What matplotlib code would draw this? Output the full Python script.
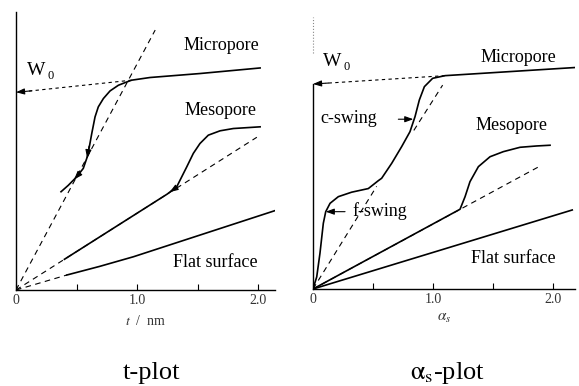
import matplotlib.pyplot as plt

plt.rcParams['font.family'] = 'Liberation Serif'
plt.rcParams['mathtext.fontset'] = 'stix'

# ---- t-plot data (t / nm , amount adsorbed) ----
t_micro_x = [0.372, 0.432, 0.501, 0.556, 0.589, 0.606, 0.626, 0.653, 0.680,
             0.722, 0.777, 0.846, 0.915, 0.956, 1.107, 1.521, 2.017]
t_micro_y = [0.813, 0.866, 0.936, 1.006, 1.102, 1.185, 1.295, 1.432, 1.515,
             1.584, 1.647, 1.694, 1.721, 1.736, 1.758, 1.791, 1.837]
t_micro_slope = 1.87      # dashed line through origin
t_micro_dash_end = 1.15

t_meso_x = [0.40, 1.25, 1.328, 1.411, 1.465, 1.520, 1.589, 1.686, 1.796, 2.017]
t_meso_y = [0.254, 0.794, 0.854, 1.019, 1.130, 1.212, 1.281, 1.317, 1.336, 1.350]
t_meso_slope = 0.635
t_meso_dash_end = 1.99

t_flat_x = [0.42, 0.69, 0.97, 2.15]
t_flat_y = [0.124, 0.195, 0.275, 0.660]

t_w0 = 1.636
t_w0_from = (0.956, 1.736)

# ---- alpha_s-plot data ----
a_micro_x = [0.0, 0.031, 0.058, 0.086, 0.106, 0.142, 0.211, 0.322, 0.461, 0.544,
             0.572, 0.656, 0.739, 0.808, 0.850, 0.886, 0.928, 0.997, 1.100, 2.180]
a_micro_y = [0.0, 0.100, 0.295, 0.543, 0.639, 0.708, 0.763, 0.800, 0.830, 0.895,
             0.915, 1.039, 1.177, 1.300, 1.424, 1.562, 1.672, 1.741, 1.763, 1.830]
a_fswing_slope = 1.60
a_fswing_dash = (0.0, 0.53)
a_cswing_slope = 1.56
a_cswing_dash = (0.84, 1.08)

a_meso_x = [0.0, 1.225, 1.267, 1.308, 1.378, 1.475, 1.586, 1.725, 1.864, 1.975]
a_meso_y = [0.0, 0.659, 0.763, 0.887, 1.011, 1.093, 1.135, 1.171, 1.182, 1.188]
a_meso_slope = 0.537
a_meso_dash_end = 1.89

a_flat_x = [0.0, 2.16]
a_flat_y = [0.0, 0.653]

a_w0 = 1.694
a_w0_from = (1.10, 1.763)

lw = 1.2
fs = 13
dash = dict(color='k', lw=0.8, dashes=(5, 4))
w0dash = dict(color='k', lw=0.8, dashes=(3, 3))
head = dict(arrowstyle='-|>,head_length=0.5,head_width=0.18', color='k',
            lw=0.8, shrinkA=0, shrinkB=0)


def style_axis(ax, xmax, ymax):
    ax.set_xlim(0, xmax)
    ax.set_ylim(0, ymax)
    ax.spines['top'].set_visible(False)
    ax.spines['right'].set_visible(False)
    ax.set_yticks([])
    ax.set_xticks([0, 1, 2], labels=['0', '1.0', '2.0'])
    ax.set_xticks([0.5, 1.5], minor=True)
    ax.tick_params(axis='x', which='both', direction='in', length=4,
                   width=0.8, labelsize=10, labelcolor='#333333', pad=3)
    for s in ['left', 'bottom']:
        ax.spines[s].set_linewidth(1.0)


def w0_label(ax, x, y):
    ax.text(x, y, 'W', fontsize=14, ha='center', va='center')
    ax.text(x + 0.12, y - 0.05, '0', fontsize=9, ha='center', va='center')


fig = plt.figure(figsize=(5.79, 3.86), dpi=100)

# left: t-plot
ax1 = fig.add_axes([16/579, 96/386, 259/579, 278/386])
style_axis(ax1, 2.14, 2.30)
ax1.plot([0, t_micro_dash_end], [0, t_micro_slope * t_micro_dash_end], **dash)
ax1.plot([0, t_meso_dash_end], [0, t_meso_slope * t_meso_dash_end], **dash)
ax1.plot([0, t_flat_x[0]], [0, t_flat_y[0]], **dash)
ax1.plot(t_micro_x, t_micro_y, color='k', lw=lw)
ax1.plot(t_meso_x, t_meso_y, color='k', lw=lw)
ax1.plot(t_flat_x, t_flat_y, color='k', lw=lw)
ax1.plot([t_w0_from[0], 0.1], [t_w0_from[1], t_w0 + 0.009], **w0dash)
ax1.annotate('', xy=(0, t_w0), xytext=(0.13, t_w0 + 0.012), arrowprops=head)
# desorption arrows
ax1.annotate('', xy=(0.588, 1.09), xytext=(0.603, 1.19), arrowprops=head)
ax1.annotate('', xy=(0.48, 0.915), xytext=(0.53, 0.97), arrowprops=head)
ax1.annotate('', xy=(1.27, 0.81), xytext=(1.33, 0.85), arrowprops=head)
w0_label(ax1, 0.17, 1.82)
ax1.text(1.694, 2.025, 'Micropore', fontsize=fs, ha='center', va='center')
ax1.text(1.686, 1.488, 'Mesopore', fontsize=fs, ha='center', va='center')
ax1.text(1.645, 0.231, 'Flat surface', fontsize=fs, ha='center', va='center')
ax1.set_xlabel(r'$t$  /  nm', fontsize=10, labelpad=5, color='#333333')

# right: alpha_s-plot
ax2 = fig.add_axes([313/579, 97/386, 262/579, 277/386])
style_axis(ax2, 2.183, 2.289)
ax2.spines['left'].set_bounds(0, a_w0)
ax2.axvline(0, ymin=1.95/2.289, ymax=2.25/2.289, color='#888888', lw=0.8,
            ls=':', clip_on=False)
ax2.plot([a_fswing_dash[0], a_fswing_dash[1]],
         [a_fswing_slope * a_fswing_dash[0], a_fswing_slope * a_fswing_dash[1]], **dash)
ax2.plot([a_cswing_dash[0], a_cswing_dash[1]],
         [a_cswing_slope * a_cswing_dash[0], a_cswing_slope * a_cswing_dash[1]], **dash)
ax2.plot([0, a_meso_dash_end], [0, a_meso_slope * a_meso_dash_end], **dash)
ax2.plot(a_micro_x, a_micro_y, color='k', lw=lw)
ax2.plot(a_meso_x, a_meso_y, color='k', lw=lw)
ax2.plot(a_flat_x, a_flat_y, color='k', lw=lw)
ax2.plot([a_w0_from[0], 0.1], [a_w0_from[1], a_w0 + 0.006], **w0dash)
ax2.annotate('', xy=(0, a_w0), xytext=(0.13, a_w0 + 0.008), arrowprops=head)
ax2.annotate('', xy=(0.836, 1.403), xytext=(0.711, 1.403), arrowprops=head)
ax2.annotate('', xy=(0.106, 0.639), xytext=(0.267, 0.639), arrowprops=head)
w0_label(ax2, 0.16, 1.884)
ax2.text(1.708, 1.909, 'Micropore', fontsize=fs, ha='center', va='center')
ax2.text(1.650, 1.355, 'Mesopore', fontsize=fs, ha='center', va='center')
ax2.text(1.667, 0.256, 'Flat surface', fontsize=fs, ha='center', va='center')
ax2.text(0.300, 1.405, 'c-swing', fontsize=fs, ha='center', va='center')
ax2.text(0.325, 0.645, 'f-swing', fontsize=fs, ha='left', va='center')
ax2.set_xlabel(r'$\alpha_s$', fontsize=11, labelpad=4, color='#333333')

fig.text(151/579, 1 - 373/386, 't-plot', fontsize=19, ha='center', va='center')
fig.text(447/579, 1 - 373/386, r'$\mathrm{\alpha}_\mathrm{s}$-plot', fontsize=19,
         ha='center', va='center')

fig.savefig('out.png', dpi=100, facecolor='white')
